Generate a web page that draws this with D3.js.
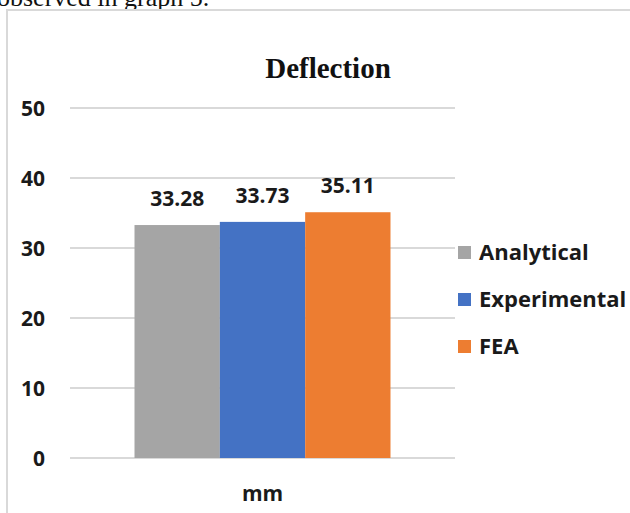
<!DOCTYPE html>
<html>
<head>
<meta charset="utf-8">
<script src="https://cdn.jsdelivr.net/npm/d3@7"></script>
<style>
  html, body { margin: 0; padding: 0; background: #fff; overflow: hidden; }
  svg { display: block; }
</style>
</head>
<body>
<svg id="chart" width="630" height="513"></svg>
<script>
// Deflection results (mm) for the three methods
const categories = ["mm"];
const seriesNames = ["Analytical", "Experimental", "FEA"];
const seriesValues = [33.28, 33.73, 35.11];
const seriesColors = ["#a5a5a5", "#4472c4", "#ed7d31"];
const yTicks = [0, 10, 20, 30, 40, 50];

const svg = d3.select("#chart");
const W = 630, H = 513;
const sansBold = "'Open Sans', 'Noto Sans', sans-serif";

// Running text of the page above the figure
svg.append("text")
  .attr("x", -3).attr("y", 6)
  .attr("font-family", "'Liberation Serif', 'Times New Roman', serif")
  .attr("font-size", 26)
  .attr("fill", "#111")
  .text("observed in graph 5.");

// Chart frame (left and top edges)
svg.append("line").attr("x1", 7).attr("x2", 7).attr("y1", 9).attr("y2", H)
  .attr("stroke", "#d9d9d9").attr("stroke-width", 2);
svg.append("line").attr("x1", 6).attr("x2", W).attr("y1", 10).attr("y2", 10)
  .attr("stroke", "#d9d9d9").attr("stroke-width", 2);

// Scales
const plot = { left: 70, right: 455, top: 108, bottom: 458 };
const y = d3.scaleLinear().domain([0, 50]).range([plot.bottom, plot.top]);
const x0 = d3.scaleBand().domain(categories).range([plot.left, plot.right]).paddingInner(0).paddingOuter(0.252);
const x1 = d3.scaleBand().domain(seriesNames).range([0, x0.bandwidth()]).padding(0);

// Gridlines
svg.append("g")
  .selectAll("line")
  .data(yTicks)
  .join("line")
  .attr("x1", plot.left).attr("x2", plot.right)
  .attr("y1", d => y(d)).attr("y2", d => y(d))
  .attr("stroke", "#d9d9d9").attr("stroke-width", 2);

// Y axis labels
const yAxis = d3.axisLeft(y).tickValues(yTicks).tickSize(0).tickPadding(0);
const gy = svg.append("g").attr("transform", `translate(45,0)`).call(yAxis);
gy.select(".domain").remove();
gy.selectAll("text")
  .attr("font-family", sansBold).attr("font-weight", 700)
  .attr("font-size", 21).attr("fill", "#1a1a1a")
  .attr("dy", "0.35em");

// Bars
const data = seriesNames.map((s, i) => ({ cat: categories[0], name: s, value: seriesValues[i], color: seriesColors[i] }));
const gBars = svg.append("g");
gBars.selectAll("rect")
  .data(data)
  .join("rect")
  .attr("x", d => x0(d.cat) + x1(d.name))
  .attr("width", x1.bandwidth())
  .attr("y", d => y(d.value))
  .attr("height", d => y(0) - y(d.value))
  .attr("fill", d => d.color);

// Value labels
gBars.selectAll("text")
  .data(data)
  .join("text")
  .attr("x", d => x0(d.cat) + x1(d.name) + x1.bandwidth() / 2)
  .attr("y", d => y(d.value) - 19)
  .attr("text-anchor", "middle")
  .attr("font-family", sansBold).attr("font-weight", 700)
  .attr("font-size", 21).attr("fill", "#1a1a1a")
  .text(d => d.value.toFixed(2));

// Category axis label
const xAxis = d3.axisBottom(x0).tickSize(0).tickPadding(0);
const gx = svg.append("g").attr("transform", `translate(0,${plot.bottom})`).call(xAxis);
gx.select(".domain").remove();
gx.selectAll("text")
  .attr("font-family", sansBold).attr("font-weight", 700)
  .attr("font-size", 21).attr("fill", "#1a1a1a")
  .attr("dy", 0).attr("y", 43);

// Title
svg.append("text")
  .attr("x", 328).attr("y", 78)
  .attr("text-anchor", "middle")
  .attr("font-family", "'Liberation Serif', 'Times New Roman', serif")
  .attr("font-weight", 700).attr("font-size", 29)
  .attr("fill", "#111")
  .text("Deflection");

// Legend
const legend = svg.append("g").attr("transform", "translate(458,252)");
const li = legend.selectAll("g")
  .data(data)
  .join("g")
  .attr("transform", (d, i) => `translate(0,${i * 47})`);
li.append("rect")
  .attr("x", 0).attr("y", -6).attr("width", 13).attr("height", 13)
  .attr("fill", d => d.color);
li.append("text")
  .attr("x", 21).attr("y", 0).attr("dy", "0.35em")
  .attr("font-family", sansBold).attr("font-weight", 700)
  .attr("font-size", 22).attr("fill", "#1a1a1a")
  .text(d => d.name);
</script>
</body>
</html>
